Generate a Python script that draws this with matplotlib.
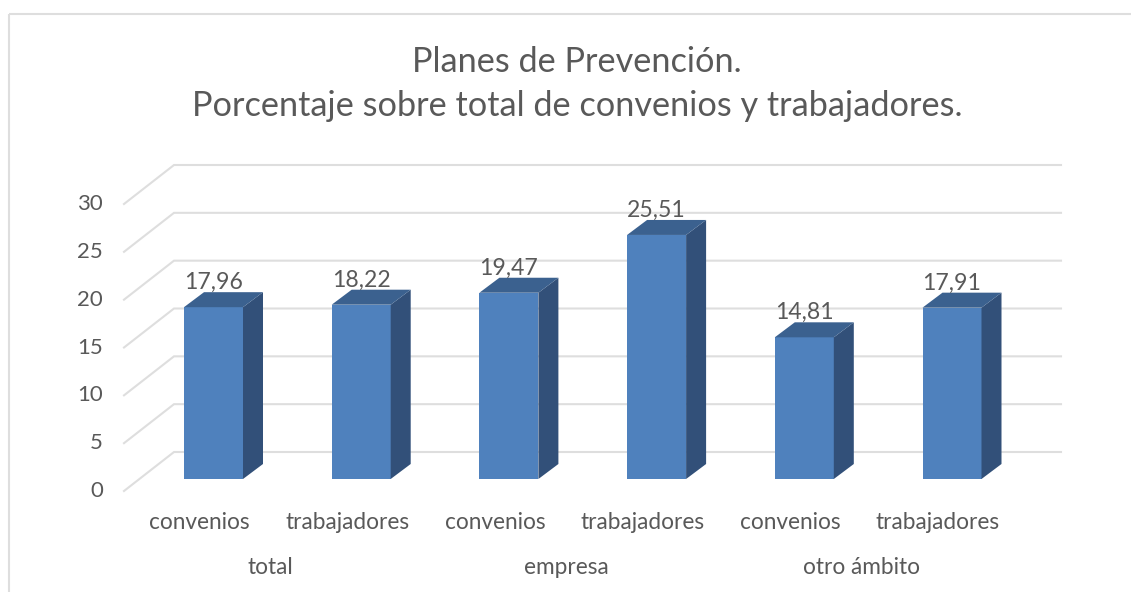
import matplotlib
matplotlib.use("Agg")
import matplotlib.pyplot as plt
from matplotlib.patches import Rectangle, Polygon

plt.rcParams['font.family'] = ['Lato', 'DejaVu Sans']

categories = ["convenios", "trabajadores", "convenios", "trabajadores", "convenios", "trabajadores"]
groups = ["total", "empresa", "otro ámbito"]
values = [17.96, 18.22, 19.47, 25.51, 14.81, 17.91]
labels = ["17,96", "18,22", "19,47", "25,51", "14,81", "17,91"]
yticks = [0, 5, 10, 15, 20, 25, 30]

W, H = 1131, 592
TXT = "#595959"
GRID = "#dedede"
FRONT, TOP, SIDE = "#4f81bd", "#3b618f", "#325079"

fig = plt.figure(figsize=(W / 100, H / 100), dpi=100, facecolor="white")

# chart-area frame (runs off the right and bottom of the crop)
fig.add_artist(Rectangle((9 / W, 1 - 14 / H), 1.2, -1.2, transform=fig.transFigure,
                         fill=False, ec=GRID, lw=1.5))

# axes = front plane of the 3-D box
L, R, B, T = 124, 1061, 491, 204
ax = fig.add_axes([L / W, 1 - B / H, (R - L) / W, (B - T) / H])
PX_X = 147.7
PX_Y = (B - T) / 30
x0 = 213.5
ax.set_xlim((L - x0) / PX_X, (R - x0) / PX_X)
ax.set_ylim(0, 30)
for s in ax.spines.values():
    s.set_visible(False)
ax.patch.set_visible(False)

# wall gridlines and floor/side diagonals
wall_dx = 50 / (R - L)
wall_dy = 39 / PX_Y
ytr = ax.get_yaxis_transform()
for v in yticks:
    ax.plot([0, wall_dx, 1], [v, v + wall_dy, v + wall_dy], transform=ytr,
            color=GRID, lw=1.5, clip_on=False, zorder=1, solid_joinstyle="miter")

ax.set_yticks(yticks)
ax.tick_params(axis="y", length=0, pad=15, labelsize=16, labelcolor=TXT)
for t in ax.get_yticklabels():
    t.set_verticalalignment("center")

# bars
xs = list(range(len(values)))
bw = 59 / PX_X
floor = 12 / PX_Y
ddx, ddy = 20 / PX_X, 15 / PX_Y
ax.bar(xs, values, width=bw, bottom=floor, color=FRONT, zorder=3, clip_on=False)
for x, v in zip(xs, values):
    l, r, b, t = x - bw / 2, x + bw / 2, floor, floor + v
    ax.add_patch(Polygon([(r, b), (r + ddx, b + ddy), (r + ddx, t + ddy), (r, t)],
                         color=SIDE, zorder=3, lw=0, clip_on=False))
    ax.add_patch(Polygon([(l, t), (l + ddx, t + ddy), (r + ddx, t + ddy), (r, t)],
                         color=TOP, zorder=3, lw=0, clip_on=False))

for x, v, s in zip(xs, values, labels):
    ax.annotate(s, (x, floor + v), xytext=(0, 24.5 * 0.72), textcoords="offset points",
                ha="center", va="center", fontsize=16.6, color=TXT, zorder=4)

# category and group labels
ax.set_xticks([x - 14 / PX_X for x in xs])
ax.set_xticklabels(categories)
ax.tick_params(axis="x", length=0, pad=15, labelsize=16.3, labelcolor=TXT)

xtr = ax.get_xaxis_transform()
for i, g in enumerate(groups):
    gx = 2 * i + 0.5 - 16.5 / PX_X
    ax.annotate(g, (gx, 0), xycoords=xtr, xytext=(0, -77 * 0.72), textcoords="offset points",
                ha="center", va="center", fontsize=16.3, color=TXT)

fig.text(577 / W, 1 - 84 / H,
         "Planes de Prevención.\nPorcentaje sobre total de convenios y trabajadores.",
         ha="center", va="center", fontsize=24.7, color=TXT, linespacing=1.48)

fig.savefig("out.png", dpi=100)
